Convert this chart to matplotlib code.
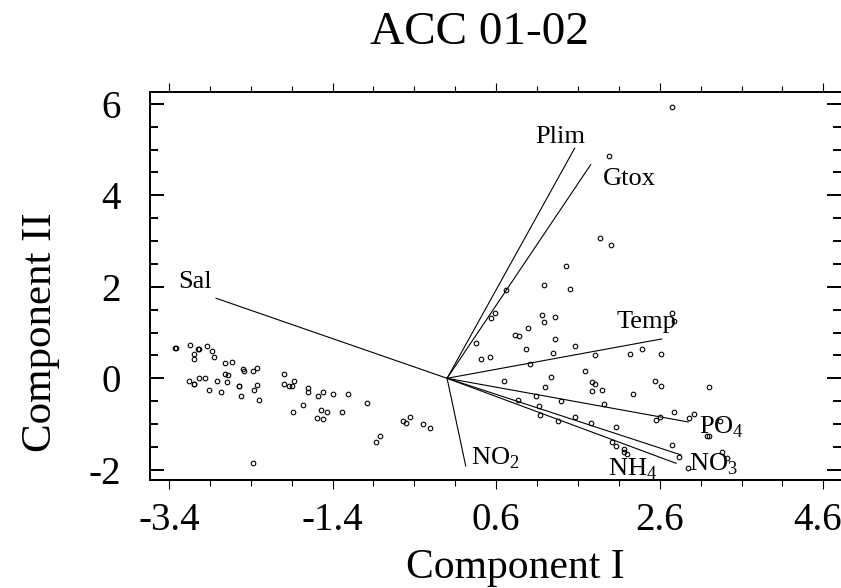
import matplotlib
matplotlib.use('Agg')
import matplotlib.pyplot as plt
import matplotlib.transforms as mtransforms
from matplotlib.ticker import MultipleLocator, FixedLocator

plt.rcParams['font.family'] = ['Liberation Serif', 'DejaVu Serif']
plt.rcParams['mathtext.fontset'] = 'custom'
plt.rcParams['mathtext.rm'] = 'Liberation Serif'
plt.rcParams['axes.unicode_minus'] = False

# sample scores (component I, component II)
comp1 = [2.75, 1.98, 1.87, 2.01, 1.45, 1.18, 1.50, 0.72,
         0.59, 0.54, 1.16, 1.32, 1.18, 0.99, 0.83, 0.88,
         0.35, 1.32, 1.56, 0.96, 0.42, 0.53, 1.29, 1.81,
         2.24, 2.38, 2.61, 1.01, 1.69, 0.70, 1.27, 1.77,
         1.81, 1.77, 1.89, 1.20, 2.54, 2.61, 2.27,
         0.87, 1.09, 1.12, 1.39, 1.92, 1.14, 1.56,
         1.36, 1.76, 2.07, 2.78, 2.60, 2.56, 2.96,
         2.02, 2.07, 2.16, 2.16, 2.20, 2.75, 2.83,
         2.94, 2.75, 2.77,
         3.20, 3.02, 3.34, 3.18, 3.20, 3.36, 3.42,
         -3.33, -3.31, -3.14, -3.10, -3.09, -3.05, -3.03, -2.94,
         -2.87, -2.85, -2.72, -2.63, -2.50, -2.48, -2.37, -2.32,
         -2.72, -2.68, -3.16, -3.10, -3.09, -3.03, -2.96, -2.81,
         -2.69, -2.55, -2.54, -2.91, -2.76, -2.52, -2.36, -2.32,
         -2.30, -1.99, -1.99, -1.93, -1.90, -1.87, -1.70, -1.70,
         -1.58, -1.52, -1.40, -1.21, -1.76, -1.88, -1.54, -1.47,
         -1.59, -1.52, -1.29, -0.98, -0.82, -0.87, -0.54, -0.50,
         -0.45, -0.30, -0.21, -2.37]
comp2 = [5.92, 4.85, 3.07, 2.91, 2.45, 2.03, 1.95, 1.93,
         1.43, 1.32, 1.38, 1.35, 1.22, 1.11, 0.95, 0.92,
         0.77, 0.85, 0.70, 0.63, 0.43, 0.46, 0.56, 0.50,
         0.53, 0.63, 0.53, 0.31, 0.17, -0.06, 0.03, -0.08,
         -0.12, -0.28, -0.26, -0.19, -0.06, -0.16, -0.35,
         -0.47, -0.39, -0.61, -0.50, -0.56, -0.80, -0.85,
         -0.93, -0.97, -1.06, -0.74, -0.84, -0.91, -0.87,
         -1.39, -1.49, -1.55, -1.61, -1.65, -1.46, -1.72,
         -1.95, 1.43, 1.25,
         -0.19, -0.77, -0.93, -1.26, -1.26, -1.62, -1.75,
         0.66, 0.66, 0.73, 0.53, 0.43, 0.63, 0.63, 0.70,
         0.59, 0.47, 0.33, 0.36, 0.21, 0.16, 0.17, 0.23,
         0.10, 0.07, -0.06, -0.12, -0.12, 0.01, 0.01, -0.06,
         -0.09, -0.16, -0.16, -0.26, -0.31, -0.38, -0.26, -0.15,
         -0.47, 0.10, -0.12, -0.16, -0.16, -0.06, -0.22, -0.31,
         -0.38, -0.31, -0.35, -0.35, -0.58, -0.74, -0.70, -0.74,
         -0.87, -0.90, -0.74, -0.55, -1.26, -1.39, -0.94, -0.97,
         -0.85, -1.00, -1.09, -1.85]

# variable loadings
var_names = ['Sal', 'Plim', 'Gtox', 'Temp',
             r'PO$_{\mathrm{4}}$', r'NO$_{\mathrm{3}}$', r'NH$_{\mathrm{4}}$', r'NO$_{\mathrm{2}}$']
load1 = [-2.825, 1.56, 1.756, 2.624, 2.949, 2.86, 2.799, 0.228]
load2 = [1.75, 5.03, 4.67, 0.86, -0.955, -1.675, -1.858, -1.917]

# where each variable name sits (left edge, baseline)
label_pos = [(-3.286, 1.97), (1.075, 5.15), (1.91, 4.225), (2.074, 1.10),
             (3.084, -1.20), (2.961, -2.02), (1.967, -2.135), (0.289, -1.88)]

xtick_vals = [-3.4, -1.4, 0.6, 2.6, 4.6]
ytick_vals = [-2, 0, 2, 4, 6]

fig = plt.figure(figsize=(8.41, 5.88), dpi=100)
ax = fig.add_axes([150/841, 1 - 480/588, 1 - 150/841, (480 - 92.3)/588])

ax.plot(comp1, comp2, 'o', ms=3.3, mfc='none', mec='black', mew=0.8, zorder=3)

for i in range(len(var_names)):
    ax.plot([0, load1[i]], [0, load2[i]], color='black', lw=0.8)
    ax.text(label_pos[i][0], label_pos[i][1], var_names[i], fontsize=19,
            ha='left', va='baseline')

ax.set_xlim(-3.632, 4.816)
ax.set_ylim(-2.223, 6.251)

ax.xaxis.set_major_locator(FixedLocator(xtick_vals))
ax.set_xticklabels(['-3.4', '-1.4', '0.6', '2.6', '4.6'])
ax.xaxis.set_minor_locator(MultipleLocator(0.5, offset=0.1))
ax.yaxis.set_major_locator(FixedLocator(ytick_vals))
ax.set_yticklabels(['-2', '0', '2', '4', '6'])
ax.yaxis.set_minor_locator(MultipleLocator(0.5))

ax.tick_params(axis='x', which='both', direction='out', top=True, bottom=True,
               width=0.8, labelsize=28, pad=9)
ax.tick_params(axis='x', which='major', length=6.5)
ax.tick_params(axis='x', which='minor', length=4.5)
ax.tick_params(axis='y', which='both', direction='in', left=True, right=True,
               width=1.4, labelsize=28, pad=21)
ax.tick_params(axis='y', which='major', length=10)
ax.tick_params(axis='y', which='minor', length=5.5)

# the last x label sits against the right edge, nudge it in a little
last = ax.get_xticklabels()[-1]
last.set_transform(last.get_transform() +
                   mtransforms.ScaledTranslation(-0.06, 0, fig.dpi_scale_trans))

for side in ['left', 'top', 'bottom']:
    ax.spines[side].set_linewidth(1.4)
ax.spines['right'].set_visible(False)

fig.text(480/841, 1 - 43.5/588, 'ACC 01-02', fontsize=34, ha='center', va='baseline')
fig.text(515/841, 1 - 578/588, 'Component I', fontsize=30, ha='center', va='baseline')
fig.text(41/841, 1 - 332/588, 'Component II', fontsize=31, rotation=90,
         ha='center', va='center')

fig.savefig('out.png', dpi=100)
